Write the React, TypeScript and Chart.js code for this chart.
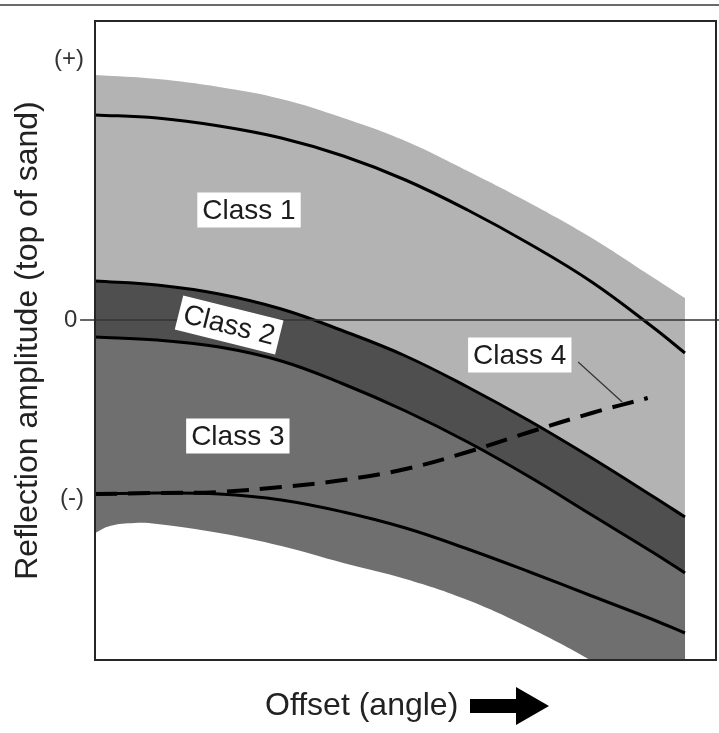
import React, { useEffect, useRef } from "react";
import { Chart, registerables } from "chart.js";

Chart.register(...registerables);

// Offset positions (arbitrary units, 0 = near offset)
const offsets = [0, 10, 20, 30, 40, 50, 60, 70, 80, 90, 95];

// Reflection amplitude curves (arbitrary units, 0 = zero amplitude)
const class1Envelope = [2.45, 2.41, 2.33, 2.21, 2.02, 1.79, 1.49, 1.17, 0.82, 0.42, 0.22];
const class1Curve = [2.05, 2.02, 1.94, 1.82, 1.64, 1.4, 1.1, 0.76, 0.38, -0.08, -0.33];
const class2Top = [0.39, 0.35, 0.26, 0.11, -0.11, -0.36, -0.67, -1.01, -1.38, -1.77, -1.97];
const class2Bottom = [-0.17, -0.2, -0.27, -0.41, -0.64, -0.91, -1.22, -1.57, -1.95, -2.33, -2.53];
const class3Curve = [-1.74, -1.73, -1.74, -1.8, -1.92, -2.08, -2.29, -2.52, -2.76, -3.0, -3.13];

const class4Offsets = [0, 10, 20, 30, 40, 50, 60, 70, 80, 89];
const class4Curve = [-1.74, -1.73, -1.72, -1.67, -1.6, -1.49, -1.32, -1.12, -0.93, -0.78];

const envelopeLowOffsets = [0, 2.4, 6.4, 10, 20, 30, 40, 50, 60, 70, 80, 90, 95];
const envelopeLow = [-2.13, -2.06, -2.03, -2.04, -2.13, -2.26, -2.43, -2.59, -2.8, -3.08, -3.41, -3.8, -4.0];

// Axis ticks
const yTickValues = [-1.78, 0, 2.61];
const yTickLabels = ["(-)", "0 ", "(+)"];

// Class labels and their anchors (data units)
const classNames = ["Class 1", "Class 2", "Class 3", "Class 4"];
const classAnchorX = [24.8, 21.6, 23.0, 68.4];
const classAnchorY = [1.1, -0.05, -1.16, -0.35];
const classAngle = [0, 14, 0, 0];
const class4Leader = [
  { x: 77.8, y: -0.42 },
  { x: 84.9, y: -0.82 },
];

const pts = (xs: number[], ys: number[]) => xs.map((x, i) => ({ x, y: ys[i] }));

const FONT = '"Liberation Sans", Arial, Helvetica, sans-serif';

const decorPlugin = {
  id: "decor",
  afterDatasetsDraw(chart: any) {
    const { ctx, chartArea, scales } = chart;
    const xs = scales.x;
    const ys = scales.y;
    ctx.save();
    // leader line for Class 4
    ctx.strokeStyle = "#333";
    ctx.lineWidth = 1.2;
    ctx.beginPath();
    ctx.moveTo(xs.getPixelForValue(class4Leader[0].x), ys.getPixelForValue(class4Leader[0].y));
    ctx.lineTo(xs.getPixelForValue(class4Leader[1].x), ys.getPixelForValue(class4Leader[1].y));
    ctx.stroke();

    ctx.font = `28px ${FONT}`;
    classNames.forEach((name, i) => {
      const px = xs.getPixelForValue(classAnchorX[i]);
      const py = ys.getPixelForValue(classAnchorY[i]);
      ctx.save();
      ctx.translate(px, py);
      ctx.rotate((classAngle[i] * Math.PI) / 180);
      const w = ctx.measureText(name).width + 10;
      const h = 35;
      ctx.fillStyle = "#ffffff";
      ctx.fillRect(-w / 2, -h / 2, w, h);
      ctx.fillStyle = "#1c1c1c";
      ctx.textAlign = "center";
      ctx.textBaseline = "middle";
      ctx.fillText(name, 0, 1);
      ctx.restore();
    });

    // plot frame
    ctx.strokeStyle = "#262626";
    ctx.lineWidth = 2;
    ctx.strokeRect(chartArea.left, chartArea.top, chartArea.right - chartArea.left, chartArea.bottom - chartArea.top);
    ctx.restore();
  },
  afterDraw(chart: any) {
    const { ctx, width } = chart;
    ctx.save();
    // top rule
    ctx.strokeStyle = "#6a6a6a";
    ctx.lineWidth = 2;
    ctx.beginPath();
    ctx.moveTo(0, 5);
    ctx.lineTo(width, 5);
    ctx.stroke();

    // x-axis title with arrow
    ctx.font = `32px ${FONT}`;
    ctx.fillStyle = "#222";
    ctx.textAlign = "left";
    ctx.textBaseline = "middle";
    ctx.fillText("Offset (angle)", 265, 706);
    ctx.fillStyle = "#000";
    ctx.beginPath();
    ctx.moveTo(470, 699);
    ctx.lineTo(516, 699);
    ctx.lineTo(516, 687);
    ctx.lineTo(549, 706);
    ctx.lineTo(516, 725);
    ctx.lineTo(516, 713);
    ctx.lineTo(470, 713);
    ctx.closePath();
    ctx.fill();
    ctx.restore();
  },
};

export default function App() {
  const canvasRef = useRef<HTMLCanvasElement | null>(null);

  useEffect(() => {
    if (!canvasRef.current) return;
    Chart.defaults.font.family = FONT;
    const lineBase = {
      pointRadius: 0,
      pointHoverRadius: 0,
      tension: 0.4,
      fill: false,
    };
    const chart = new Chart(canvasRef.current, {
      type: "line",
      data: {
        datasets: [
          {
            ...lineBase,
            label: "zero",
            data: [
              { x: -2.4, y: 0 },
              { x: 100.5, y: 0 },
            ],
            tension: 0,
            borderColor: "#333",
            borderWidth: 1.5,
            clip: false,
            order: 0,
          },
          {
            ...lineBase,
            label: "Class 4",
            data: pts(class4Offsets, class4Curve),
            borderColor: "#000",
            borderWidth: 4,
            borderDash: [22, 11],
            order: 1,
          },
          {
            ...lineBase,
            label: "Class 1 curve",
            data: pts(offsets, class1Curve),
            borderColor: "#000",
            borderWidth: 3,
            order: 2,
          },
          {
            ...lineBase,
            label: "Class 3 curve",
            data: pts(offsets, class3Curve),
            borderColor: "#000",
            borderWidth: 3,
            order: 2,
          },
          {
            ...lineBase,
            label: "lower envelope",
            data: pts(envelopeLowOffsets, envelopeLow),
            borderWidth: 0,
            borderColor: "rgba(0,0,0,0)",
            backgroundColor: "#ffffff",
            fill: "start",
            order: 5,
          },
          {
            ...lineBase,
            label: "Class 3 area",
            data: pts(offsets, class2Bottom),
            borderColor: "#000",
            borderWidth: 3,
            backgroundColor: "#6f6f6f",
            fill: "start",
            order: 6,
          },
          {
            ...lineBase,
            label: "Class 2 area",
            data: pts(offsets, class2Top),
            borderColor: "#000",
            borderWidth: 3,
            backgroundColor: "#4f4f4f",
            fill: "start",
            order: 7,
          },
          {
            ...lineBase,
            label: "Class 1 area",
            data: pts(offsets, class1Envelope),
            borderWidth: 0,
            borderColor: "rgba(0,0,0,0)",
            backgroundColor: "#b3b3b3",
            fill: "start",
            order: 8,
          },
        ],
      },
      options: {
        responsive: false,
        animation: false,
        devicePixelRatio: 1,
        events: [],
        layout: { padding: { top: 21, right: 3, bottom: 73, left: 0 } },
        plugins: {
          legend: { display: false },
          tooltip: { enabled: false },
        },
        scales: {
          x: {
            type: "linear",
            min: 0,
            max: 100,
            display: false,
          },
          y: {
            type: "linear",
            min: -3.4,
            max: 2.99,
            afterBuildTicks: (scale: any) => {
              scale.ticks = yTickValues.map((v) => ({ value: v }));
            },
            afterFit: (scale: any) => {
              scale.width = 95;
            },
            ticks: {
              autoSkip: false,
              padding: 3,
              color: "#333",
              font: { size: 24, family: FONT },
              callback: (_v: any, i: number) => yTickLabels[i],
            },
            grid: {
              display: true,
              drawOnChartArea: false,
              drawTicks: true,
              tickLength: 8,
              color: "rgba(0,0,0,0)",
            },
            border: { display: false },
            title: {
              display: true,
              text: "Reflection amplitude (top of sand)",
              color: "#222",
              font: { size: 32, family: FONT },
              padding: { top: 9, bottom: 0 },
            },
          },
        },
      },
      plugins: [decorPlugin],
    });
    return () => chart.destroy();
  }, []);

  return (
    <div style={{ position: "fixed", left: 0, top: 0, width: 719, height: 733, background: "#fff" }}>
      <canvas ref={canvasRef} width={719} height={733} style={{ display: "block" }} />
    </div>
  );
}
